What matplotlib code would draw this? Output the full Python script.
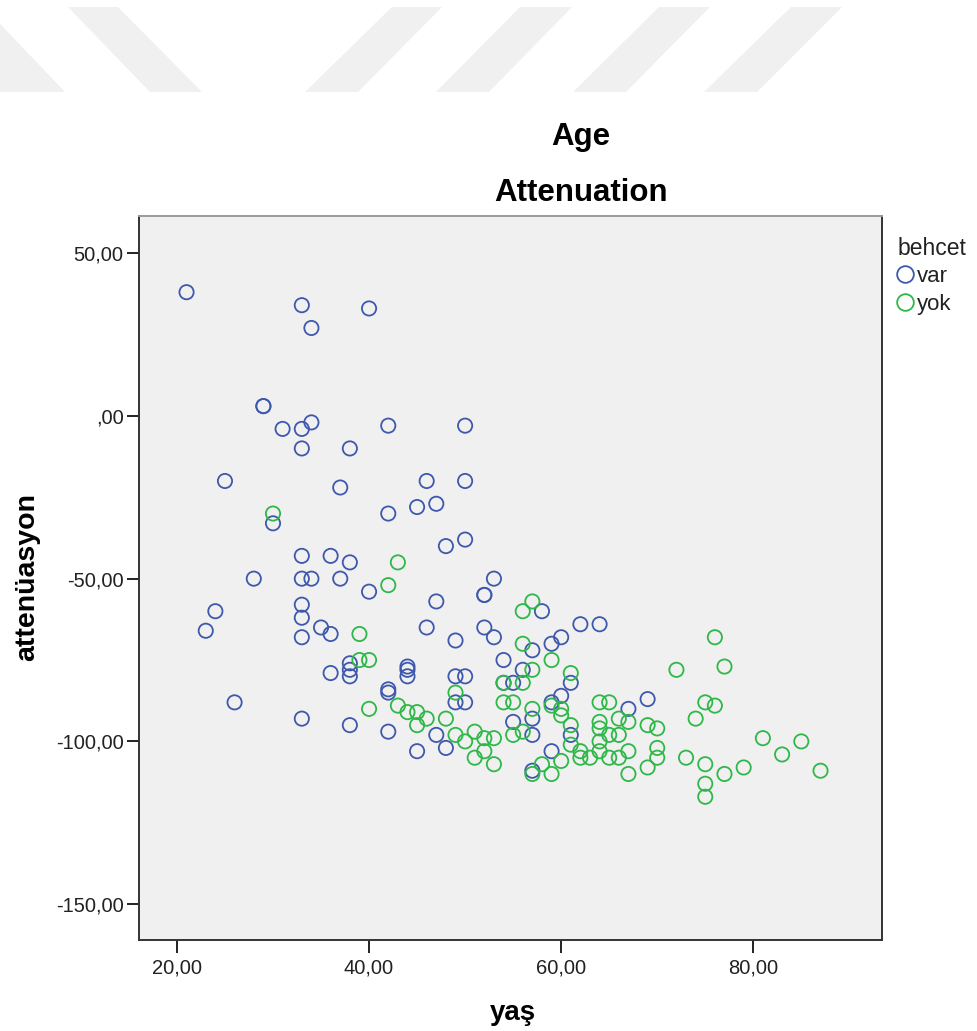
import matplotlib
matplotlib.use('Agg')
import matplotlib.pyplot as plt
from matplotlib.patches import Polygon
from matplotlib.lines import Line2D

plt.rcParams['font.family'] = ['Liberation Sans', 'DejaVu Sans']

# behcet = var
var_age = [21, 33, 34, 40,
           29, 29, 31, 33, 34, 42, 50, 33, 38,
           25, 37, 46, 50,
           45, 47, 42, 30,
           48, 50, 33, 36, 38,
           28, 33, 34, 37, 53,
           40, 52, 52, 47, 33, 33, 24, 58,
           23, 35, 36, 33, 46, 52, 53, 49,
           59, 60, 57, 62, 64,
           54, 56, 61,
           38, 38, 38, 36, 44, 44, 44, 49, 50,
           42, 42, 49, 50, 26,
           54, 55, 60, 59, 69, 67,
           57, 55, 61, 57,
           33, 38, 42, 47, 45, 48, 59, 57]
var_att = [38, 34, 27, 33,
           3, 3, -4, -4, -2, -3, -3, -10, -10,
           -20, -22, -20, -20,
           -28, -27, -30, -33,
           -40, -38, -43, -43, -45,
           -50, -50, -50, -50, -50,
           -54, -55, -55, -57, -58, -62, -60, -60,
           -66, -65, -67, -68, -65, -65, -68, -69,
           -70, -68, -72, -64, -64,
           -75, -78, -82,
           -76, -78, -80, -79, -77, -78, -80, -80, -80,
           -84, -85, -88, -88, -88,
           -82, -82, -86, -88, -87, -90,
           -93, -94, -98, -98,
           -93, -95, -97, -98, -103, -102, -103, -109]

# behcet = yok
yok_age = [30, 43, 42, 57, 56, 39, 56, 59, 57, 39, 40, 61, 76, 72, 77,
           54, 56, 49,
           54, 55, 59, 60, 60, 57, 64, 65, 75, 76,
           40, 43, 44, 45, 46, 45, 48,
           61, 64, 64, 66, 67, 69, 70, 74,
           55, 56, 65, 66,
           49, 50, 51, 52, 53,
           51, 52, 53,
           61, 62, 62, 63, 65, 66, 64, 64, 67, 70, 70,
           60, 58, 57, 59, 67, 69, 73, 75, 75, 75,
           77, 79, 81, 83, 85, 87]
yok_att = [-30, -45, -52, -57, -60, -67, -70, -75, -78, -75, -75, -79, -68, -78, -77,
           -82, -82, -85,
           -88, -88, -89, -90, -92, -90, -88, -88, -88, -89,
           -90, -89, -91, -91, -93, -95, -93,
           -95, -94, -96, -93, -94, -95, -96, -93,
           -98, -97, -98, -98,
           -98, -100, -97, -99, -99,
           -105, -103, -107,
           -101, -103, -105, -105, -105, -105, -100, -103, -103, -102, -105,
           -106, -107, -110, -110, -110, -108, -105, -107, -113, -117,
           -110, -108, -99, -104, -100, -109]

x_ticks = [20, 40, 60, 80]
x_labels = ['20,00', '40,00', '60,00', '80,00']
y_ticks = [50, 0, -50, -100, -150]
y_labels = ['50,00', ',00', '-50,00', '-100,00', '-150,00']

blue = '#3e58ac'
green = '#2eb848'

W, H = 977, 1031
fig = plt.figure(figsize=(W / 100, H / 100), dpi=100)
fig.patch.set_facecolor('white')

# light diagonal stripes across the page header
stripes = [
    [(-81, 7), (-16, 7), (65, 92), (0, 92)],
    [(68, 7), (118, 7), (202, 92), (150, 92)],
    [(392, 7), (442, 7), (358, 92), (305, 92)],
    [(520, 7), (572, 7), (489, 92), (436, 92)],
    [(659, 7), (710, 7), (626, 92), (573, 92)],
    [(791, 7), (842, 7), (757, 92), (704, 92)],
]
for pts in stripes:
    fig.patches.append(Polygon([(x / W, 1 - y / H) for x, y in pts], closed=True,
                               transform=fig.transFigure, facecolor='#f0f0f0',
                               edgecolor='none', zorder=0))

ax = fig.add_axes([139 / W, 1 - 940 / H, (882 - 139) / W, (940 - 216) / H])
ax.set_facecolor('#f0f0f0')

ax.scatter(var_age, var_att, s=105, facecolors='none', edgecolors=blue, linewidths=1.3, zorder=3)
ax.scatter(yok_age, yok_att, s=105, facecolors='none', edgecolors=green, linewidths=1.3, zorder=3)

ax.set_xlim(16.05, 93.4)
ax.set_ylim(-161, 61.4)
ax.set_xticks(x_ticks)
ax.set_xticklabels(x_labels)
ax.set_yticks(y_ticks)
ax.set_yticklabels(y_labels)
ax.tick_params(axis='both', direction='out', length=9, width=1.4, colors='#222222',
               labelsize=14.5, labelcolor='#222222')
ax.tick_params(axis='x', pad=4)
ax.tick_params(axis='y', pad=2)

for side, sp in ax.spines.items():
    sp.set_color('#333333')
    sp.set_linewidth(1.4)
ax.spines['top'].set_color('#9a9a9a')

fig.text(581 / W, 1 - 137 / H, 'Age', ha='center', va='center',
         fontsize=22.5, fontweight='bold')
fig.text(581 / W, 1 - 193 / H, 'Attenuation', ha='center', va='center',
         fontsize=22.5, fontweight='bold')
fig.text(27 / W, 1 - 577 / H, 'attenüasyon', ha='center', va='center',
         rotation=90, fontsize=20.5, fontweight='bold')
fig.text(513 / W, 1 - 1013 / H, 'yaş', ha='center', va='center',
         fontsize=20, fontweight='bold')

# legend
handles = [
    Line2D([], [], linestyle='none', marker='o', markersize=12, markerfacecolor='none',
           markeredgecolor=blue, markeredgewidth=1.3),
    Line2D([], [], linestyle='none', marker='o', markersize=12, markerfacecolor='none',
           markeredgecolor=green, markeredgewidth=1.3),
]
leg = fig.legend(handles, ['var', 'yok'], title='behcet', loc='upper left',
                 bbox_to_anchor=(882 / W, 1 - 221 / H), frameon=False,
                 fontsize=16, title_fontsize=16.5, handlelength=0.7,
                 handletextpad=0.15, labelspacing=0.3, borderpad=0.2,
                 alignment='left')
for t in leg.get_texts():
    t.set_color('#222222')
leg.get_title().set_color('#222222')

fig.savefig('out.png', dpi=100)
